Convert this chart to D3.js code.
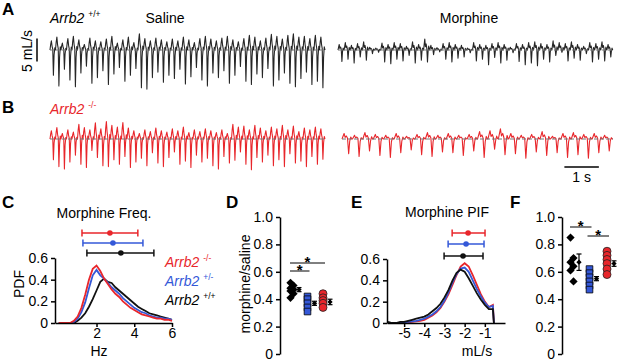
<!DOCTYPE html>
<html><head><meta charset="utf-8">
<script src="https://cdn.jsdelivr.net/npm/d3@7"></script>
<style>body{margin:0;background:#fff}svg{display:block;font-family:"Liberation Sans",Arial,sans-serif}</style>
</head><body><svg id="c" width="617" height="362"></svg>
<script>
// ---------- DATA ----------
// Panel A/B traces: per-breath peak (expiratory, mL/s) and trough (inspiratory, mL/s)
const wtSalTrough = [-5.5,-7.8,-4.2,-6.5,-8.0,-5.0,-3.5,-7.2,-6.0,-4.5,-7.5,-5.2,-3.8,-6.8,-5.5,-4.0,-8.2,-8.5,-6.0,-4.8,-7.0,-5.5,-6.2,-4.2,-7.4,-5.8,-3.8,-6.5,-7.8,-5.0,-6.0,-4.5,-7.2,-5.5,-3.6,-6.8,-7.5,-5.2,-6.0,-4.0,-7.8,-6.5,-5.0,-7.2,-8.0,-6.2,-4.8,-7.5,-6.8,-8.2];
const wtSalPeak   = [2.0,2.8,1.5,2.5,3.0,2.2,1.2,2.6,2.0,1.8,2.4,3.0,1.5,2.2,2.8,1.6,3.5,2.5,2.0,2.6,2.2,1.8,2.4,2.0,2.8,2.2,1.6,2.5,3.0,2.4,2.0,2.6,3.0,2.2,1.8,2.5,3.2,2.8,2.0,2.6,3.4,3.0,2.4,3.2,3.5,2.8,3.0,2.5,3.2,2.8];
const wtMorTrough = [-2.5,-2.0,-2.8,-1.5,-2.2,-0.8,-0.5,-2.6,-3.0,-2.0,-2.4,-1.2,-2.8,-2.2,-2.6,-1.0,-0.4,-2.0,-2.6,-1.8,-1.5,-0.6,-2.4,-2.0,-3.2,-1.6,-2.8,-2.2,-0.6,-2.5,-3.2,-2.8,-3.4,-2.0,-2.6,-1.2,-0.5,-2.4,-1.8,-2.2,-0.8,-2.6,-2.0,-2.4,-1.5];
const wtMorPeak   = [1.2,1.6,1.0,1.4,1.8,0.6,0.4,1.5,1.2,1.6,1.4,0.8,1.8,1.2,2.4,1.0,0.5,1.4,1.6,1.2,1.0,0.4,1.6,1.2,1.0,1.4,1.6,1.2,0.6,1.4,1.2,1.6,1.8,1.4,1.2,2.0,1.6,1.4,1.8,1.2,0.8,1.6,1.4,1.8,1.2];
const koSalTrough = [-4.5,-6.0,-6.5,-5.0,-3.5,-5.5,-6.2,-2.5,-4.0,-5.8,-6.0,-4.5,-5.5,-3.8,-6.2,-5.0,-4.2,-5.8,-3.0,-5.2,-6.0,-4.0,-2.8,-5.5,-4.8,-6.2,-3.5,-5.0,-4.2,-5.8,-6.5,-3.8,-5.2,-4.6,-2.8,-5.5,-6.7,-4.0,-5.0,-3.5,-5.8,-4.5,-6.0,-3.2,-5.2,-4.8,-6.0,-3.8,-5.5,-4.4];
const koSalPeak   = [1.8,2.5,1.2,2.0,1.5,3.2,2.5,2.0,3.5,2.2,3.8,3.0,2.6,3.6,2.4,1.8,1.2,2.0,1.6,2.4,1.8,1.5,2.2,1.8,2.6,1.4,2.0,1.6,2.2,1.8,1.4,2.0,1.2,3.2,2.6,2.8,2.0,3.0,2.4,1.8,2.6,2.2,3.0,2.0,2.8,1.6,2.4,2.0,2.6,2.2];
const koMorTrough = [-3.2,-3.8,-2.6,-3.6,-4.0,-3.0,-2.4,-3.4,-3.8,-2.8,-3.0,-3.6,-2.6,-4.0,-2.2,-3.4,-3.2,-4.2,-2.8,-3.6,-3.0,-4.0,-3.4,-4.2,-3.0,-2.6];
const koMorPeak   = [1.2,0.8,1.4,1.0,0.8,1.2,0.6,1.0,1.4,0.8,1.2,0.8,1.0,1.6,1.8,2.2,1.2,0.8,1.0,1.6,0.6,1.2,1.4,1.0,1.2,0.8];

// Panel C: frequency PDF (Hz)
const freqX   = [0.0,0.2,0.4,0.6,0.8,1.0,1.2,1.4,1.6,1.8,2.0,2.2,2.4,2.6,2.8,3.0,3.2,3.4,3.6,3.8,4.0,4.2,4.4,4.6,4.8,5.0,5.2,5.4,5.6,5.8,6.0];
const freqKO  = [0,0,0,0,0.02,0.06,0.14,0.26,0.40,0.50,0.53,0.48,0.41,0.36,0.31,0.27,0.24,0.20,0.17,0.14,0.12,0.10,0.08,0.07,0.06,0.05,0.04,0.04,0.03,0.03,0.02];
const freqHet = [0,0,0,0,0.01,0.04,0.10,0.19,0.32,0.44,0.49,0.44,0.41,0.37,0.33,0.30,0.27,0.23,0.20,0.17,0.14,0.12,0.10,0.09,0.07,0.06,0.05,0.05,0.04,0.04,0.03];
const freqWT  = [0,0,0,0,0,0.02,0.05,0.09,0.15,0.22,0.30,0.38,0.41,0.38,0.37,0.33,0.30,0.27,0.24,0.21,0.18,0.15,0.13,0.11,0.09,0.08,0.07,0.06,0.05,0.04,0.03];
const freqSummary = [ // [low, mean, high]
  {g:"KO",  lo:1.23, mean:2.71, hi:4.19},
  {g:"Het", lo:1.28, mean:2.87, hi:4.46},
  {g:"WT",  lo:1.49, mean:3.29, hi:5.04}];

// Panel E: PIF PDF (mL/s)
const pifX   = [-5.8,-5.6,-5.4,-5.2,-5.0,-4.8,-4.6,-4.4,-4.2,-4.0,-3.8,-3.6,-3.4,-3.2,-3.0,-2.8,-2.6,-2.4,-2.2,-2.0,-1.8,-1.6,-1.4,-1.2,-1.0,-0.8,-0.6,-0.55];
const pifWT  = [0.01,0.0,0.0,0.01,0.01,0.02,0.03,0.04,0.05,0.06,0.08,0.11,0.14,0.18,0.24,0.31,0.40,0.47,0.50,0.48,0.42,0.35,0.28,0.22,0.17,0.13,0.13,0];
const pifHet = [0,0,0,0,0.005,0.01,0.015,0.02,0.03,0.04,0.06,0.08,0.11,0.15,0.21,0.29,0.38,0.46,0.51,0.52,0.48,0.40,0.32,0.25,0.19,0.15,0.16,0];
const pifKO  = [0,0,0,0,0,0.005,0.01,0.015,0.02,0.03,0.05,0.07,0.10,0.14,0.20,0.27,0.36,0.45,0.53,0.56,0.53,0.45,0.36,0.27,0.20,0.15,0.17,0];
const pifSummary = [
  {g:"KO",  lo:-2.62, mean:-1.83, hi:-0.99},
  {g:"Het", lo:-2.82, mean:-1.93, hi:-1.04},
  {g:"WT",  lo:-3.02, mean:-2.08, hi:-1.09}];

// Panel D: morphine/saline frequency ratio
const dWT  = [0.52,0.50,0.48,0.47,0.46,0.44,0.41];
const dHet = [0.42,0.40,0.37,0.34,0.31];
const dKO  = [0.44,0.41,0.39,0.37,0.34];
const dMean = [{g:"WT",m:0.47,s:0.015},{g:"Het",m:0.37,s:0.015},{g:"KO",m:0.38,s:0.02}];
// Panel F
const fWT  = [0.85,0.70,0.67,0.64,0.61,0.53];
const fHet = [0.62,0.59,0.56,0.53,0.50,0.47];
const fKO  = [0.75,0.72,0.69,0.66,0.62,0.58];
const fMean = [{g:"WT",m:0.67,s:0.06},{g:"Het",m:0.55,s:0.015},{g:"KO",m:0.66,s:0.02}];

const groups = ["WT","Het","KO"];
const cTicksY = ["0","0.2","0.4","0.6"];
const cTicksX = ["2","4","6"];
const eTicksX = ["-5","-4","-3","-2","-1"];
const dfTicks = ["0","0.2","0.4","0.6","0.8","1.0"];

// ---------- DRAW ----------
const RED="#e8262b", BLUE="#3458d8", BLK="#111111", TR="#262626";
const col = {WT:BLK, Het:BLUE, KO:RED};
const svg = d3.select("#c");
svg.append("rect").attr("width",617).attr("height",362).attr("fill","#fff");

function txt(x,y,s,o={}){
  const t=svg.append("text").attr("x",x).attr("y",y).text(s)
    .attr("font-size",o.size||14).attr("fill",o.fill||"#000");
  if(o.weight) t.attr("font-weight",o.weight);
  if(o.anchor) t.attr("text-anchor",o.anchor);
  if(o.italic) t.attr("font-style","italic");
  if(o.rotate) t.attr("transform",`rotate(-90,${x},${y})`);
  return t;
}
function geno(x,y,sup,fill){
  const t=txt(x,y,"Arrb2",{italic:true,fill:fill});
  t.append("tspan").attr("dx",4).attr("dy",-6).attr("font-size",8.5).attr("font-style","normal").text(sup);
}

// traces
const T=7.86;
const salTpl=[[0,0,0],[0.12,0.6,0],[0.25,1,0],[0.38,0.4,0],[0.5,0.1,0],[0.62,0,1],[0.74,0,0.2],[0.87,0.25,0]];
const morTpl=[[0,0,0],[0.1,0.5,0],[0.2,1,0],[0.3,0.3,0],[0.42,0.55,0],[0.53,0.15,0],[0.64,0,1],[0.74,0,0.15],[0.84,0.35,0],[0.93,0.05,0]];
function trace(tr,pk,xr,y,color,tpl){
  const x=d3.scaleLinear().domain([0,T]).range(xr);
  const n=tr.length, d=T/n, pts=[];
  for(let i=0;i<n;i++) for(const [f,pf,tf] of tpl) pts.push([x(i*d+f*d), y(pf*pk[i]+tf*tr[i])]);
  pts.push([x(T),y(0)]);
  svg.append("path").attr("d",d3.line()(pts)).attr("fill","none").attr("stroke",color).attr("stroke-width",1.1).attr("stroke-linejoin","round");
  svg.append("line").attr("x1",xr[0]).attr("x2",xr[1]).attr("y1",y(0)).attr("y2",y(0))
    .attr("stroke","#777").attr("stroke-width",1).attr("stroke-dasharray","4,2");
  return x;
}
const yA=d3.scaleLinear().domain([-10,5]).range([96,27]);
const yB=d3.scaleLinear().domain([-10,5]).range([185,116]);
trace(wtSalTrough,wtSalPeak,[50,325],yA,TR,salTpl);
trace(wtMorTrough,wtMorPeak,[338,613],yA,TR,morTpl);
trace(koSalTrough,koSalPeak,[50,325],yB,RED,salTpl);
const xBm=trace(koMorTrough,koMorPeak,[342,613],yB,RED,morTpl);

// scale bars
svg.append("line").attr("x1",37).attr("x2",37).attr("y1",yA(2.5)).attr("y2",yA(-2.5)).attr("stroke","#000").attr("stroke-width",1.5);
txt(32,51,"5 mL/s",{anchor:"middle",rotate:true});
svg.append("line").attr("x1",xBm(6.45)).attr("x2",xBm(7.45)).attr("y1",167).attr("y2",167).attr("stroke","#000").attr("stroke-width",1.5);
txt((xBm(6.45)+xBm(7.45))/2,182,"1 s",{anchor:"middle"});

txt(2,15,"A",{size:17,weight:"bold"});
txt(2,113,"B",{size:17,weight:"bold"});
geno(50,23,"+/+","#000");
geno(50,114,"-/-",RED);
txt(165,23,"Saline",{anchor:"middle"});
txt(469,23,"Morphine",{anchor:"middle"});

// panel letters
txt(2,208,"C",{size:17,weight:"bold"});
txt(226,208,"D",{size:17,weight:"bold"});
txt(351,208,"E",{size:17,weight:"bold"});
txt(510,208,"F",{size:17,weight:"bold"});

function styleAxis(g){
  g.selectAll("path.domain").attr("stroke","#000").attr("stroke-width",1.5);
  g.selectAll(".tick line").attr("stroke","#000").attr("stroke-width",1.5);
  g.selectAll(".tick text").attr("font-size",14).attr("font-family","Liberation Sans, Arial, sans-serif").attr("fill","#000");
}
function summaryBars(rows,x,yPos){
  rows.forEach((r,i)=>{
    const y=yPos[i], c=col[r.g];
    svg.append("line").attr("x1",x(r.lo)).attr("x2",x(r.hi)).attr("y1",y).attr("y2",y).attr("stroke",c).attr("stroke-width",1.5);
    [r.lo,r.hi].forEach(v=>svg.append("line").attr("x1",x(v)).attr("x2",x(v)).attr("y1",y-3.5).attr("y2",y+3.5).attr("stroke",c).attr("stroke-width",1.5));
    svg.append("circle").attr("cx",x(r.mean)).attr("cy",y).attr("r",2.8).attr("fill",c);
  });
}

// Panel C
{
  const x=d3.scaleLinear().domain([-0.2,6]).range([55,172]);
  const y=d3.scaleLinear().domain([0,0.6]).range([323,258]);
  const line=d3.line().x((d,i)=>x(freqX[i])).y(d=>y(d));
  [["WT",freqWT],["Het",freqHet],["KO",freqKO]].forEach(([g,a])=>
    svg.append("path").attr("d",line(a)).attr("fill","none").attr("stroke",col[g]).attr("stroke-width",1.8));
  const ax=svg.append("g").attr("transform","translate(0,323)").call(d3.axisBottom(x).tickValues([2,4,6]).tickFormat((d,i)=>cTicksX[i]).tickSize(4).tickSizeOuter(0).tickPadding(1));
  styleAxis(ax);
  const ay=svg.append("g").attr("transform","translate(55,0)").call(d3.axisLeft(y).tickValues([0,0.2,0.4,0.6]).tickFormat((d,i)=>cTicksY[i]).tickSize(4).tickSizeOuter(0).tickPadding(3));
  styleAxis(ay);
  txt(99,356,"Hz",{anchor:"middle"});
  txt(24,284,"PDF",{anchor:"middle",rotate:true});
  txt(104,218,"Morphine Freq.",{anchor:"middle"});
  summaryBars(freqSummary,x,[233,243,253]);
  geno(165,267,"-/-",RED);
  geno(165,286,"+/-",BLUE);
  geno(165,305,"+/+","#000");
}
// Panel E
{
  const x=d3.scaleLinear().domain([-5.85,0]).range([387,505]);
  const y=d3.scaleLinear().domain([0,0.6]).range([323,259]);
  const line=d3.line().x((d,i)=>x(pifX[i])).y(d=>y(d));
  [["KO",pifKO],["Het",pifHet],["WT",pifWT]].forEach(([g,a])=>
    svg.append("path").attr("d",line(a)).attr("fill","none").attr("stroke",col[g]).attr("stroke-width",1.8));
  const ax=svg.append("g").attr("transform","translate(0,323)").call(d3.axisBottom(x).tickValues([-5,-4,-3,-2,-1]).tickFormat((d,i)=>eTicksX[i]).tickSize(4).tickSizeOuter(0).tickPadding(1));
  styleAxis(ax);
  const ay=svg.append("g").attr("transform","translate(387,0)").call(d3.axisLeft(y).tickValues([0,0.2,0.4,0.6]).tickFormat((d,i)=>cTicksY[i]).tickSize(4).tickSizeOuter(0).tickPadding(3));
  styleAxis(ay);
  txt(477,356,"mL/s",{anchor:"middle"});
  txt(447,217,"Morphine PIF",{anchor:"middle"});
  summaryBars(pifSummary,x,[233,244,256]);
}
// Panels D & F
function dotPanel(axX,xr,vals,means,sig,ylab){
  const y=d3.scaleLinear().domain([0,1]).range([354,217]);
  const x=d3.scalePoint().domain(groups).range(xr);
  const ay=svg.append("g").attr("transform",`translate(${axX},0)`).call(d3.axisLeft(y).tickValues([0,0.2,0.4,0.6,0.8,1.0]).tickFormat((d,i)=>dfTicks[i]).tickSize(4).tickSizeOuter(0).tickPadding(3));
  styleAxis(ay);
  if(ylab) txt(250,284,ylab,{anchor:"middle",rotate:true});
  const sq=d3.symbol().type(d3.symbolSquare);
  vals.WT.forEach((v,i)=>svg.append("path").attr("d",sq.size(34)()).attr("transform",`translate(${x("WT")+(i%2?1.5:-1.5)},${y(v)}) rotate(45)`).attr("fill","#000"));
  vals.Het.forEach(v=>svg.append("path").attr("d",sq.size(44)()).attr("transform",`translate(${x("Het")},${y(v)})`).attr("fill",BLUE).attr("stroke","#000").attr("stroke-width",0.8));
  vals.KO.forEach(v=>svg.append("circle").attr("cx",x("KO")).attr("cy",y(v)).attr("r",4).attr("fill",RED).attr("stroke","#222").attr("stroke-width",0.8));
  means.forEach(m=>{
    const cx=x(m.g)+7;
    svg.append("line").attr("x1",cx).attr("x2",cx).attr("y1",y(m.m-m.s)).attr("y2",y(m.m+m.s)).attr("stroke","#000").attr("stroke-width",1.2);
    [m.m-m.s,m.m+m.s].forEach(v=>svg.append("line").attr("x1",cx-2.5).attr("x2",cx+2.5).attr("y1",y(v)).attr("y2",y(v)).attr("stroke","#000").attr("stroke-width",1.2));
    svg.append("path").attr("d",d3.symbol().type(d3.symbolSquare).size(14)()).attr("transform",`translate(${cx},${y(m.m)}) rotate(45)`).attr("fill","#000");
  });
  sig.forEach(s=>{
    svg.append("line").attr("x1",x(s.a)-2).attr("x2",x(s.b)+2).attr("y1",s.y).attr("y2",s.y).attr("stroke","#000").attr("stroke-width",1);
    txt((x(s.a)+x(s.b))/2,s.y+4,"*",{anchor:"middle",size:15,weight:"bold"});
  });
}
dotPanel(280,[292,323],{WT:dWT,Het:dHet,KO:dKO},dMean,[{a:"WT",b:"Het",y:271},{a:"WT",b:"KO",y:263}],"morphine/saline");
dotPanel(562,[572,607],{WT:fWT,Het:fHet,KO:fKO},fMean,[{a:"WT",b:"Het",y:227},{a:"Het",b:"KO",y:236}],null);
</script></body></html>
